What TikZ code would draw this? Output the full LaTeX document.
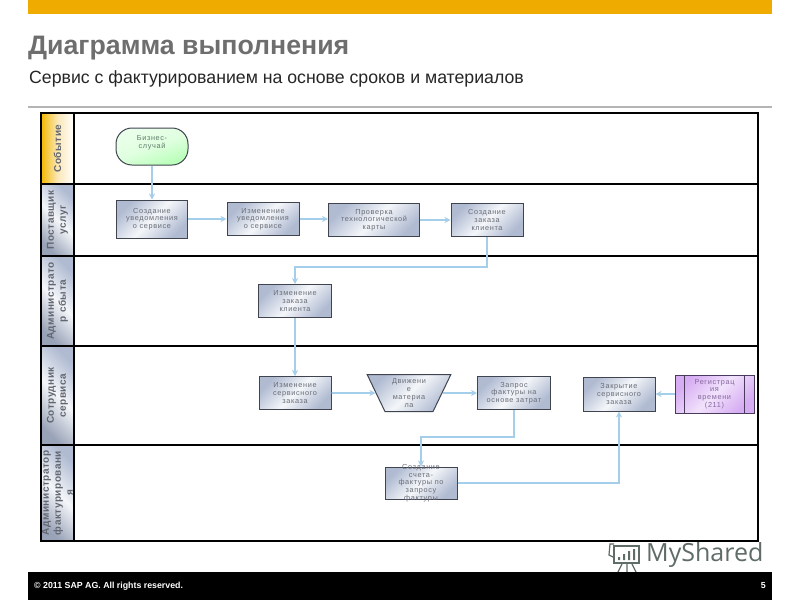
\documentclass[tikz,border=0pt]{standalone}
\usepackage{fontspec}
\setmainfont{Liberation Sans}
\newfontfamily\boxfont[LetterSpace=9]{Liberation Sans}
\newfontfamily\lanefont[LetterSpace=5]{Liberation Sans}
\newfontfamily\markfont{Open Sans}
\usetikzlibrary{arrows.meta,shapes.geometric}
\definecolor{barorange}{HTML}{F0AB00}
\definecolor{titlegray}{HTML}{6E6E6E}
\definecolor{rulegray}{HTML}{B4B4B4}
\definecolor{flowblue}{HTML}{A4CEEA}
\definecolor{boxedge}{HTML}{3F444F}
\definecolor{boxdark}{HTML}{B0BBD2}
\definecolor{boxlight}{HTML}{F4F6F9}
\definecolor{boxtext}{HTML}{686C76}
\definecolor{lanetext}{HTML}{626670}
\definecolor{markgray}{HTML}{5F6C68}
\definecolor{timedark}{HTML}{D6ACF2}
\definecolor{timelight}{HTML}{F1E2FC}
\definecolor{timetext}{HTML}{86689E}
\definecolor{timeedge}{HTML}{4A3A5C}
\tikzset{
  x=1pt,y=-1pt,
  stepbox/.style={draw=boxedge,line width=1pt,rectangle,inner sep=0pt,align=center,
    font=\boxfont\fontsize{7.3}{7.7}\selectfont,text=boxtext,
    top color=boxdark,bottom color=boxdark,middle color=boxlight,shading angle=45},
  boxlabel/.style={inner sep=0pt,align=center,font=\boxfont\fontsize{7.3}{7.7}\selectfont,text=boxtext},
  startbox/.style={draw=boxedge,line width=1pt,rectangle,rounded corners=16pt,inner sep=0pt,align=center,
    font=\boxfont\fontsize{7.3}{7.7}\selectfont,text=boxtext!90!green,minimum width=72pt,minimum height=37pt,
    top color=green!8,bottom color=green!28,middle color=green!12,shading angle=20},
  movebox/.style={draw=boxedge,line width=1pt,trapezium,shape border rotate=180,trapezium stretches=true,
    trapezium left angle=66,trapezium right angle=66,inner sep=0pt,align=center,
    font=\boxfont\fontsize{7.3}{7.7}\selectfont,text=boxtext,
    minimum width=84pt,minimum height=37pt,
    top color=boxdark,bottom color=boxdark,middle color=boxlight,shading angle=45},
  timebox/.style={draw=timeedge,line width=1pt,rectangle,inner sep=0pt,align=center,
    font=\boxfont\fontsize{7.3}{7.7}\selectfont,text=timetext,minimum width=79pt,minimum height=38pt,
    top color=timedark,bottom color=timedark,middle color=timelight,shading angle=45},
  lanehead/.style={draw=black,line width=1.2pt,rectangle,rotate=90,inner sep=0pt,align=center,
    font=\lanefont\bfseries\fontsize{10}{12}\selectfont,text=lanetext,minimum height=33pt,
    top color=boxdark!80!boxedge,bottom color=boxdark,middle color=boxlight,shading angle=135},
  eventhead/.style={lanehead,top color=barorange!85!yellow,bottom color=white,middle color=barorange!28!white,shading angle=90},
  flow/.style={draw=flowblue,line width=1.6pt,-{Stealth[length=6pt,width=6pt]}},
  lanerule/.style={draw=black,line width=1.7pt}
}
\begin{document}
\begin{tikzpicture}
\useasboundingbox (0,0) rectangle (800,600);
\fill[white] (0,0) rectangle (800,600);
\fill[barorange] (28,0) rectangle (772,14);
\node[anchor=west,inner sep=0pt,text=titlegray,font=\bfseries\fontsize{26.7}{30}\selectfont] (title) at (28,48) {Диаграмма выполнения};
\node[anchor=west,inner sep=0pt,text=black!85,font=\fontsize{17.7}{20}\selectfont] (subtitle) at (29,79) {Сервис с фактурированием на основе сроков и материалов};
\draw[rulegray,line width=1.2pt] (28,107) -- (772,107);

% lanes
\node[eventhead,minimum width=71pt] (l1) at (57.5,148.5) {Событие};
\node[lanehead,minimum width=72pt] (l2) at (57.5,220) {Поставщик\\услуг};
\node[lanehead,minimum width=90pt] (l3) at (57.5,301) {Администрато\\р сбыта};
\node[lanehead,minimum width=99pt] (l4) at (57.5,395.5) {Сотрудник\\сервиса};
\node[lanehead,minimum width=96pt] (l5) at (57.5,493) {Администратор\\фактурировани\\я};
\draw[lanerule] (41,113) rectangle (758,541);
\draw[lanerule] (41,184) -- (758,184);
\draw[lanerule] (41,256) -- (758,256);
\draw[lanerule] (41,346) -- (758,346);
\draw[lanerule] (41,445) -- (758,445);
\draw[lanerule] (74,113) -- (74,541);

% steps
\node[startbox] (biz) at (152,146.5) {Бизнес-\\случай\\[2pt]};
\node[stepbox,minimum width=71pt,minimum height=38pt] (a) at (152,219) {Создание\\уведомления\\о сервисе};
\node[stepbox,minimum width=72pt,minimum height=33pt] (b) at (263,219) {Изменение\\уведомления\\о сервисе};
\node[stepbox,minimum width=91pt,minimum height=33pt] (c) at (374,220) {Проверка\\технологической\\карты};
\node[stepbox,minimum width=72pt,minimum height=33pt] (d) at (487,220) {Создание\\заказа\\клиента};
\node[stepbox,minimum width=73pt,minimum height=33pt] (e) at (295,301) {Изменение\\заказа\\клиента};
\node[stepbox,minimum width=72pt,minimum height=33pt] (f) at (295,393) {Изменение\\сервисного\\заказа};
\node[movebox] (m) at (409,393) {Движени\\е\\материа\\ла};
\node[stepbox,minimum width=73pt,minimum height=33pt] (g) at (514,393) {Запрос\\фактуры на\\основе затрат};
\node[stepbox,minimum width=72pt,minimum height=34pt] (k) at (619,394) {Закрытие\\сервисного\\заказа};
\node[timebox] (r) at (714.5,394) {Регистрац\\ия\\времени\\(211)};
\draw[timeedge,line width=1pt] ([xshift=10pt]r.north west) -- ([xshift=10pt]r.south west);
\draw[timeedge,line width=1pt] ([xshift=-10pt]r.north east) -- ([xshift=-10pt]r.south east);
\node[stepbox,minimum width=72pt,minimum height=32pt] (s) at (421,483) {};
\node[boxlabel] (st) at (421,483) {Создание\\счета-\\фактуры по\\запросу\\фактуры};

% connectors
\draw[flow] (biz.south) -- (a.north);
\draw[flow] (a.east) -- (b.west);
\draw[flow] (b.east) -- (b.east -| c.west);
\draw[flow] (c.east) -- (d.west);
\draw[flow] (d.south) -- ++(0,30) -| (e.north);
\draw[flow] (e.south) -- (f.north);
\draw[flow] (f.east) -- (m.west);
\draw[flow] (m.east) -- (m.east -| g.west);
\draw[flow] (g.south) -- ++(0,27) -| (s.north);
\draw[flow,line width=1.2pt] (s.east) -| (k.south);
\draw[flow] (r.west) -- (k.east);

% watermark
\node[anchor=west,inner sep=0pt,text=markgray,font=\markfont\fontsize{25}{28}\selectfont] (mark) at (646,555) {MyShared};
\draw[markgray,line width=1.8pt] (614,546) rectangle (639,563);
\draw[markgray,line width=1.2pt] (614,544) -- (610,544) -- (609,555) -- (613,557);
\draw[markgray,line width=1.2pt] (622,564) -- (618,572) (627,564) -- (627,572) (632,564) -- (636,572);
\fill[markgray] (618,557) rectangle (620,560) (623,554) rectangle (625,560) (628,551) rectangle (630,560) (633,549) rectangle (635,560);

% footer
\fill[black] (28,572) rectangle (772,600);
\node[anchor=west,inner sep=0pt,text=white,font=\bfseries\fontsize{8.8}{10}\selectfont] (copy) at (34,586) {© 2011 SAP AG. All rights reserved.};
\node[anchor=east,inner sep=0pt,text=white,font=\bfseries\fontsize{8.8}{10}\selectfont] (page) at (766,586) {5};
\end{tikzpicture}
\end{document}
